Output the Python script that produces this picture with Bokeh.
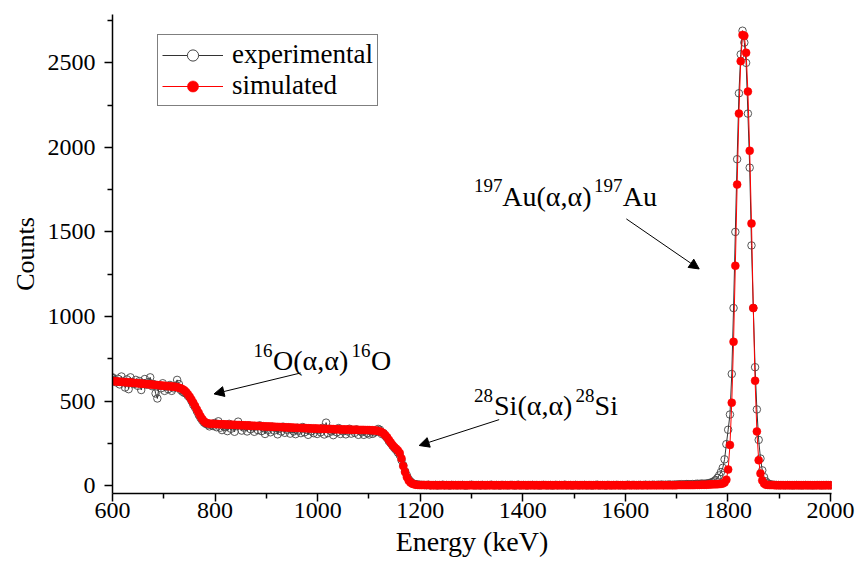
from bokeh.plotting import figure
from bokeh.models import (Label, Arrow, NormalHead, Legend, LegendItem,
                          FixedTicker, Range1d)
from bokeh.embed import file_html
from bokeh.resources import INLINE

# ---- channel calibration (keV) ----
E_START = 600.0
E_STEP = 3.5

# ---- experimental counts ----
exp_low = [
    640, 625, 610, 632, 598, 645, 615, 580, 628, 570,
    640, 612, 600, 625, 590, 618, 565, 605, 630, 596,
    612, 640, 588, 600, 545, 515, 590, 575, 605, 560,
    585, 570, 595, 560, 575, 590, 625, 600, 565, 555,
    548, 545, 530, 520, 500, 478, 462, 440, 418, 400,
    385, 372, 365, 360, 350, 358, 352, 370, 345, 380,
    342, 328, 360, 345, 322, 365, 336, 350, 318, 352,
    378, 358, 325, 343, 352, 320, 356, 333, 345, 318,
    350, 328, 356, 322, 340, 305, 346, 330, 315, 348,
    325, 340, 303, 336, 320, 348, 312, 330, 344, 307,
    335, 320, 304, 342, 325, 310, 346, 315, 330, 300,
    338, 322, 310, 334, 305, 328, 315, 342, 302, 372,
    310, 336, 320, 298, 332, 315, 340, 305, 322, 330,
    303, 320, 336, 307, 326, 312, 332, 300, 321, 315,
    300, 326, 310, 302, 322, 306, 314, 318, 335, 330,
    305, 310, 292, 280, 262, 250, 235, 222, 210, 195,
    180, 150, 120, 85, 60, 38, 25, 15, 10, 8,
    6, 5, 4,
]
exp_flat = [
    4, 3, 2, 5, 1, 3, 2, 4, 0, 3,
    2, 5, 1, 3, 2, 0, 4, 2, 3, 1,
    3, 2, 4, 1, 0, 2, 3, 5, 2, 1,
    2, 3, 0, 4, 2, 1, 3, 2, 5, 2,
    1, 3, 2, 0, 4, 2, 3, 1, 2, 4,
    3, 0, 2, 5, 1, 2, 3, 2, 0, 3,
    2, 4, 1, 3, 2, 0, 2, 4, 3, 1,
    2, 3, 0, 2, 4, 1, 3, 2, 2, 5,
    1, 2, 3, 0, 2, 4, 2, 1, 3, 2,
    4, 1, 2, 3, 0, 2, 3, 5, 1, 2,
    3, 2, 0, 4, 2, 1, 3, 2, 4, 2,
    2, 3, 1, 2, 5, 3, 2, 4, 3, 2,
    3, 4, 2, 3, 5, 2, 4, 3, 5, 4,
    3, 5, 4, 6, 3, 5, 4, 6, 5, 4,
    6, 5, 7, 6, 8, 6, 7, 9, 8, 7,
    9, 8, 10, 11, 9, 12, 11,
]
exp_peak = [
    11, 12, 14, 16, 20, 25, 33, 45, 60, 80,
    105, 155, 245, 330, 420, 660, 1050, 1500, 1930, 2320,
    2550, 2690, 2620, 2500, 2200, 1880, 1420, 1050, 700, 450,
    270, 160, 90, 50, 25, 14, 9, 6, 5, 4,
    3, 3, 2, 3, 2, 2, 3, 2, 2, 1,
    2, 3, 2, 2, 1, 2, 3, 2, 2, 2,
    1, 2, 2, 3, 2, 1, 2, 2, 3, 2,
    2, 1,
]

# ---- simulated counts ----
sim_low = [
    618, 617, 616, 615, 614, 613, 612, 611, 611, 610,
    609, 608, 607, 606, 605, 604, 603, 602, 601, 600,
    599, 598, 597, 596, 595, 594, 593, 592, 591, 590,
    589, 588, 587, 586, 585, 584, 582, 579, 575, 570,
    563, 553, 540, 525, 508, 490, 470, 450, 430, 410,
    393, 380, 372, 368, 366, 365, 365, 364, 364, 363,
    363, 362, 362, 361, 361, 360, 360, 359, 359, 358,
    358, 357, 357, 356, 356, 355, 355, 354, 354, 353,
    353, 352, 352, 351, 351, 350, 350, 349, 349, 348,
    348, 347, 347, 346, 346, 345, 345, 344, 344, 343,
    343, 342, 342, 341, 341, 340, 340, 340, 339, 339,
    338, 338, 338, 337, 337, 336, 336, 336, 335, 335,
    335, 334, 334, 334, 333, 333, 333, 332, 332, 332,
    331, 331, 331, 330, 330, 330, 330, 329, 329, 329,
    329, 328, 328, 328, 327, 327, 326, 325, 323, 320,
    315, 308, 298, 285, 270, 255, 240, 228, 218, 208,
    192, 160, 115, 80, 50, 30, 18, 11, 7, 5,
    4, 3, 3,
]
sim_flat = [
    3, 3, 3, 3, 2, 2, 2, 2, 2, 2,
    2, 2, 2, 2, 2, 2, 2, 2, 2, 2,
    2, 2, 2, 2, 2, 2, 2, 2, 2, 2,
    2, 2, 2, 2, 2, 2, 2, 2, 2, 2,
    2, 2, 2, 2, 2, 2, 2, 2, 2, 2,
    2, 2, 2, 2, 2, 2, 2, 2, 2, 2,
    2, 2, 2, 2, 2, 2, 2, 2, 2, 2,
    2, 2, 2, 2, 2, 2, 2, 2, 2, 2,
    2, 2, 2, 2, 2, 2, 2, 2, 2, 2,
    2, 2, 2, 2, 2, 2, 2, 2, 2, 2,
    2, 2, 2, 2, 2, 2, 2, 2, 2, 2,
    2, 2, 2, 2, 2, 2, 2, 2, 2, 2,
    2, 2, 2, 2, 2, 2, 2, 2, 2, 2,
    2, 2, 2, 2, 2, 2, 2, 2, 2, 2,
    2, 2, 3, 3, 3, 3, 3, 3, 3, 3,
    3, 3, 4, 4, 4, 5, 5,
]
sim_peak = [
    5, 5, 6, 6, 7, 7, 8, 8, 9, 10,
    12, 18, 35, 95, 240, 490, 850, 1300, 1780, 2200,
    2510, 2665, 2660, 2560, 2330, 1980, 1550, 1050, 620, 320,
    150, 72, 30, 12, 5, 4, 3, 3, 3, 2,
    2, 2, 2, 2, 2, 2, 2, 2, 2, 2,
    2, 2, 2, 2, 2, 2, 2, 2, 2, 2,
    2, 2, 2, 2, 2, 2, 2, 2, 2, 2,
    2, 2,
]

experimental = exp_low + exp_flat + exp_peak
simulated = sim_low + sim_flat + sim_peak
energy_exp = [E_START + E_STEP * i for i in range(len(experimental))]
energy_sim = [E_START + E_STEP * i for i in range(len(simulated))]

x_major = [600, 800, 1000, 1200, 1400, 1600, 1800, 2000]
x_minor = [700, 900, 1100, 1300, 1500, 1700, 1900]
y_major = [0, 500, 1000, 1500, 2000, 2500]
y_minor = [250, 750, 1250, 1750, 2250, 2750]

legend_labels = ["experimental", "simulated"]
x_title = "Energy (keV)"
y_title = "Counts"

FONT = "Liberation Serif"
EXP_COLOR = "#444444"

p = figure(width=856, height=567,
           x_range=Range1d(600, 2002), y_range=Range1d(-47, 2786),
           output_backend="svg", toolbar_location=None,
           min_border_left=112, min_border_top=14,
           min_border_right=25, min_border_bottom=74)

p.xgrid.visible = False
p.ygrid.visible = False
p.outline_line_color = None
p.background_fill_color = "white"
p.border_fill_color = "white"

p.xaxis.ticker = FixedTicker(ticks=x_major, minor_ticks=x_minor)
p.yaxis.ticker = FixedTicker(ticks=y_major, minor_ticks=y_minor)

for ax in (p.xaxis, p.yaxis):
    ax.axis_line_width = 1.5
    ax.axis_line_color = "black"
    ax.major_tick_line_width = 1.5
    ax.minor_tick_line_width = 1.5
    ax.major_tick_line_color = "black"
    ax.minor_tick_line_color = "black"
    ax.major_tick_in = 0
    ax.minor_tick_in = 0
    ax.major_tick_out = 8
    ax.minor_tick_out = 5
    ax.major_label_text_font = FONT
    ax.major_label_text_font_size = "24px"
    ax.major_label_text_color = "black"
    ax.axis_label_text_font = FONT
    ax.axis_label_text_font_style = "normal"
    ax.axis_label_text_color = "black"

p.xaxis.axis_label = x_title
p.yaxis.axis_label = y_title
p.xaxis.axis_label_text_font_size = "28px"
p.yaxis.axis_label_text_font_size = "26px"
p.xaxis.major_label_standoff = 1
p.xaxis.axis_label_standoff = 5
p.yaxis.major_label_standoff = 9
p.yaxis.axis_label_standoff = 5

# legend proxy markers, drawn first under the first data points
leg_exp_pt = p.scatter(energy_exp[:1], experimental[:1], marker="circle",
                       size=6, fill_color="white", line_color=EXP_COLOR,
                       line_width=1)
leg_sim_pt = p.scatter(energy_sim[:1], simulated[:1], marker="circle",
                       size=7, fill_color="#ff0000", line_color="#ff0000",
                       line_width=0.5)

exp_line = p.line(energy_exp, experimental, line_color="#333333", line_width=1)
exp_pts = p.scatter(energy_exp, experimental, marker="circle", size=7.5,
                    fill_color=None, line_color=EXP_COLOR, line_width=0.9)
sim_line = p.line(energy_sim, simulated, line_color="#ff0000", line_width=1)
sim_pts = p.scatter(energy_sim, simulated, marker="circle", size=8,
                    fill_color="#ff0000", line_color="#ff0000", line_width=0.5)

legend = Legend(items=[
    LegendItem(label=legend_labels[0], renderers=[exp_line, leg_exp_pt]),
    LegendItem(label=legend_labels[1], renderers=[sim_line, leg_sim_pt]),
], location=(45, 387))
legend.border_line_color = "black"
legend.border_line_width = 1
legend.background_fill_color = "white"
legend.background_fill_alpha = 1
legend.label_text_font = FONT
legend.label_text_font_size = "27px"
legend.label_text_color = "black"
legend.glyph_width = 61
legend.glyph_height = 28
legend.label_height = 28
legend.label_standoff = 9
legend.padding = 4
legend.spacing = 0
legend.margin = 0
p.add_layout(legend, "center")


def add_text(x, y, text, size):
    p.add_layout(Label(x=x, y=y, text=text, text_font=FONT,
                       text_font_size=size, text_color="black",
                       text_align="left", text_baseline="alphabetic"))


MAIN = "28px"
SUP = "19px"

# 16O(a,a)16O
add_text(875, 798, "16", SUP)
add_text(913, 739, "O(\u03b1,\u03b1)", MAIN)
add_text(1066, 798, "16", SUP)
add_text(1104, 739, "O", MAIN)

# 28Si(a,a)28Si
add_text(1305, 532, "28", SUP)
add_text(1344, 473, "Si(\u03b1,\u03b1)", MAIN)
add_text(1503, 532, "28", SUP)
add_text(1540, 473, "Si", MAIN)

# 197Au(a,a)197Au
add_text(1305, 1774, "197", SUP)
add_text(1360, 1709, "Au(\u03b1,\u03b1)", MAIN)
add_text(1539, 1774, "197", SUP)
add_text(1595, 1709, "Au", MAIN)

for xs, ys, xe, ye in [(967, 666, 798, 542),
                       (1354, 390, 1198, 237),
                       (1602, 1577, 1744, 1281)]:
    p.add_layout(Arrow(end=NormalHead(size=10, fill_color="black",
                                      line_color="black", line_width=1),
                       x_start=xs, y_start=ys, x_end=xe, y_end=ye,
                       line_color="black", line_width=1))

open("out.html", "w").write(file_html(p, INLINE))
